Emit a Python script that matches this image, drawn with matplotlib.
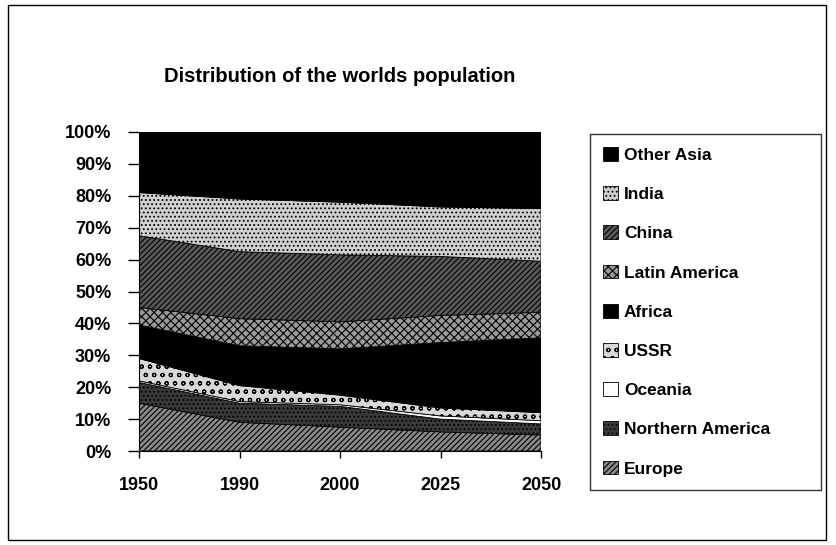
import matplotlib
matplotlib.use('Agg')
import matplotlib.pyplot as plt
from matplotlib.patches import Rectangle

plt.rcParams['font.family'] = ['Liberation Sans', 'DejaVu Sans']
plt.rcParams['hatch.linewidth'] = 0.8

# share of world population (%) per region
years = ['1950', '1990', '2000', '2025', '2050']
regions = ['Europe', 'Northern America', 'Oceania', 'USSR', 'Africa',
           'Latin America', 'China', 'India', 'Other Asia']
europe = [15.0, 9.0, 7.5, 6.0, 5.0]
northern_america = [6.5, 6.0, 6.5, 4.0, 3.5]
oceania = [0.5, 0.5, 0.5, 1.0, 1.0]
ussr = [7.0, 5.0, 3.0, 2.5, 2.5]
africa = [10.5, 12.5, 14.5, 20.5, 23.5]
latin_america = [5.5, 8.5, 8.5, 8.5, 8.0]
china = [22.5, 21.0, 21.0, 18.5, 16.0]
india = [13.5, 16.5, 16.5, 15.5, 16.5]
other_asia = [19.0, 21.0, 22.0, 23.5, 24.0]

series = [europe, northern_america, oceania, ussr, africa,
          latin_america, china, india, other_asia]
colors = ['#8a8a8a', '#3a3a3a', '#ffffff', '#d8d8d8', '#000000',
          '#9a9a9a', '#5a5a5a', '#d0d0d0', '#000000']
hatches = ['//////', '....', '', 'oo', '',
           'xxxx', '//////', '....', '']

fig = plt.figure(figsize=(8.36, 5.45), dpi=100)
ax = fig.add_axes([139 / 836, 1 - 451 / 545, 402 / 836, 319 / 545])

x = list(range(len(years)))
polys = ax.stackplot(x, *series, labels=regions, colors=colors,
                     hatch=hatches, edgecolor='black', linewidth=0.6)

ax.set_xlim(0, len(years) - 1)
ax.set_ylim(0, 100)
ax.set_xticks(x)
ax.set_xticklabels(years, fontsize=13, fontweight='bold')
ax.set_yticks(range(0, 101, 10))
ax.set_yticklabels([f'{v}%' for v in range(0, 101, 10)], fontsize=13,
                   fontweight='bold')
ax.tick_params(axis='y', length=8, width=1, pad=12)
ax.tick_params(axis='x', length=5, width=1, pad=14)
ax.spines['top'].set_visible(False)
ax.spines['right'].set_visible(False)

fig.text(340 / 836, 1 - 77 / 545, 'Distribution of the worlds population',
         ha='center', va='center', fontsize=14.5, fontweight='bold')

leg = fig.legend(polys[::-1], regions[::-1], loc='upper left',
                 bbox_to_anchor=(590 / 836, 1 - 492 / 545, 231 / 836, 358 / 545),
                 mode='expand',
                 frameon=True, fancybox=False, edgecolor='black',
                 prop={'size': 12.5, 'weight': 'bold'},
                 handlelength=0.85, handleheight=0.85, handletextpad=0.35,
                 labelspacing=1.34, borderpad=0.75, borderaxespad=0)
leg.get_frame().set_linewidth(1)

# outer chart frame
fig.patches.append(Rectangle((8 / 836, 5 / 545), 818 / 836, 535 / 545,
                             transform=fig.transFigure, fill=False,
                             edgecolor='black', linewidth=1))

fig.savefig('out.png', dpi=100)
